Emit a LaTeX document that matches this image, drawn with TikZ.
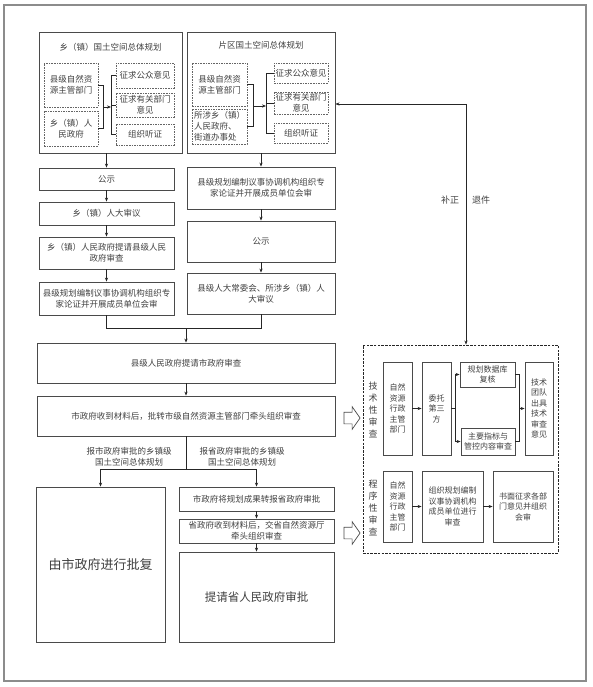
\documentclass[tikz,border=0pt]{standalone}
\usepackage{fontspec}
\setmainfont{Noto Sans CJK SC}
\usepackage{tikz}
\usetikzlibrary{arrows.meta,positioning,shapes.arrows}

\definecolor{linegray}{HTML}{4A4A4A}
\definecolor{textgray}{HTML}{404040}
\definecolor{framegray}{HTML}{8C8C8C}

\begin{document}
\begin{tikzpicture}[
  x=1pt, y=-1pt,
  font=\fontsize{8.5}{11}\selectfont,
  >={Stealth[length=4pt,width=3.2pt]},
  % Block styles
  box/.style={
    draw=linegray, line width=0.8pt, text=textgray,
    align=center, inner sep=1pt
  },
  dbox/.style={box, dash pattern=on 1.6pt off 1pt, draw=linegray!85},
  group/.style={draw=linegray, line width=0.9pt},
  small/.style={font=\fontsize{8}{10.5}\selectfont},
  vlabel/.style={text=textgray, align=center, font=\fontsize{9}{12}\selectfont},
  lab/.style={text=textgray, align=center},
  hollow/.style={
    single arrow, draw=linegray, line width=0.7pt, inner sep=5.5pt,
    minimum height=16, single arrow head extend=5.5pt,
    single arrow tip angle=110
  },
  line/.style={draw=black!85, line width=0.7pt},
  arrow/.style={line, ->}
]

% ── Frame ────────────────────────────────────────────────────────────────────
\useasboundingbox (0,0) rectangle (592,687);
\draw[draw=framegray, line width=1.3pt] (4,5) rectangle (586,681);

% ── 乡（镇）国土空间总体规划 ─────────────────────────────────────────────────
\node[group, minimum width=143, minimum height=121] (xzgroup) at (110.5,92.5) {};
\node[lab] (xztitle) at (110.5,47) {乡（镇）国土空间总体规划};
\node[dbox, minimum width=54, minimum height=44] (xzzy) at (71,85) {县级自然资\\源主管部门};
\node[dbox, minimum width=54, minimum height=35] (xzgov) at (71,128.5) {乡（镇）人\\民政府};
\node[dbox, minimum width=58, minimum height=25] (xzgz) at (145,75.5) {征求公众意见};
\node[dbox, minimum width=58, minimum height=24] (xzbm) at (145,105) {征求有关部门\\意见};
\node[dbox, minimum width=58, minimum height=21] (xztz) at (145,134.5) {组织听证};

% ── 片区国土空间总体规划 ─────────────────────────────────────────────────────
\node[group, minimum width=148, minimum height=121] (pqgroup) at (261,92.5) {};
\node[lab] (pqtitle) at (261,45) {片区国土空间总体规划};
\node[dbox, minimum width=55, minimum height=43] (pqzy) at (219.5,84.5) {县级自然资\\源主管部门};
\node[dbox, minimum width=55, minimum height=35, align=left] (pqgov) at (219.5,126.5)
  {所涉乡（镇）\\人民政府、\\街道办事处};
\node[dbox, minimum width=54, minimum height=20] (pqgz) at (301,73) {征求公众意见};
\node[dbox, minimum width=54, minimum height=22] (pqbm) at (301,103) {征求有关部门\\意见};
\node[dbox, minimum width=54, minimum height=20] (pqtz) at (301,133) {组织听证};

% ── Left column ──────────────────────────────────────────────────────────────
\node[box, minimum width=135, minimum height=22] (xz1) at (106.5,179) {公示};
\node[box, minimum width=135, minimum height=23] (xz2) at (106.5,213.5) {乡（镇）人大审议};
\node[box, minimum width=135, minimum height=32] (xz3) at (106.5,253)
  {乡（镇）人民政府提请县级人民\\政府审查};
\node[box, minimum width=135, minimum height=33] (xz4) at (106.5,298.5)
  {县级规划编制议事协调机构组织专\\家论证并开展成员单位会审};

% ── Right column ─────────────────────────────────────────────────────────────
\node[box, minimum width=148, minimum height=42] (pq1) at (261,188)
  {县级规划编制议事协调机构组织专\\家论证并开展成员单位会审};
\node[box, minimum width=148, minimum height=41] (pq2) at (261,241.5) {公示};
\node[box, minimum width=148, minimum height=41] (pq3) at (261,293.5)
  {县级人大常委会、所涉乡（镇）人\\大审议};

% ── City review ──────────────────────────────────────────────────────────────
\node[box, minimum width=298, minimum height=40] (sz1) at (186,363) {县级人民政府提请市政府审查};
\node[box, minimum width=298, minimum height=40] (sz2) at (186,416)
  {市政府收到材料后，批转市级自然资源主管部门牵头组织审查};

\node[lab] (lbcity) at (129,457) {报市政府审批的乡镇级\\国土空间总体规划};
\node[lab] (lbprov) at (242,457) {报省政府审批的乡镇级\\国土空间总体规划};

\node[box, minimum width=129, minimum height=155, font=\fontsize{13}{16}\selectfont]
  (sp1) at (100.5,564.5) {由市政府进行批复};
\node[box, minimum width=155, minimum height=24] (sj1) at (256.5,499) {市政府将规划成果转报省政府审批};
\node[box, minimum width=155, minimum height=24] (sj2) at (256.5,531)
  {省政府收到材料后，交省自然资源厅\\牵头组织审查};
\node[box, minimum width=155, minimum height=90, font=\fontsize{11.5}{14}\selectfont]
  (sj3) at (256.5,597) {提请省人民政府审批};

% Hollow arrows
\node[hollow] (ha1) at (350,418) {};
\node[hollow] (ha2) at (350,533) {};

% ── Review box ───────────────────────────────────────────────────────────────
\node[draw=black!85, line width=0.9pt, dash pattern=on 2.5pt off 1.2pt,
      minimum width=195, minimum height=208] (review) at (460.5,449) {};

\node[vlabel] (jslab) at (373,410) {技\\术\\性\\审\\查};
\node[box, small, minimum width=29, minimum height=93] (js1) at (397.5,408.5)
  {自然\\资源\\行政\\主管\\部门};
\node[box, small, minimum width=29, minimum height=93] (js2) at (436.5,408.5)
  {委托\\第三\\方};
\node[box, small, minimum width=55, minimum height=25] (js3) at (487.5,374.5)
  {规划数据库\\复核};
\node[box, small, minimum width=54, minimum height=27] (js4) at (488,441.5)
  {主要指标与\\管控内容审查};
\node[box, small, minimum width=28, minimum height=93] (js5) at (539,408.5)
  {技术\\团队\\出具\\技术\\审查\\意见};

\node[vlabel] (cxlab) at (373,508) {程\\序\\性\\审\\查};
\node[box, small, minimum width=29, minimum height=71] (cx1) at (397.5,506.5)
  {自然\\资源\\行政\\主管\\部门};
\node[box, small, minimum width=61, minimum height=71] (cx2) at (452.5,506.5)
  {组织规划编制\\议事协调机构\\成员单位进行\\审查};
\node[box, small, minimum width=60, minimum height=71] (cx3) at (523,506.5)
  {书面征求各部\\门意见并组织\\会审};

% ── Feedback labels ──────────────────────────────────────────────────────────
\node[lab, font=\fontsize{9}{11}\selectfont] (fbl) at (450,200) {补正};
\node[lab, font=\fontsize{9}{11}\selectfont] (fbr) at (481,200) {退件};

% ── Coordinates for joins ────────────────────────────────────────────────────
\coordinate (xzL) at (103,107);
\coordinate (xzR) at (111,107);
\coordinate (pqL) at (253,106);
\coordinate (pqR) at (266,106);
\coordinate (merge) at (186,328);
\coordinate (split) at (186,469);
\coordinate (jsA) at (455,408.5);
\coordinate (jsB) at (519,408.5);
\coordinate (fbturn) at (466,104);

% ── Arrows: group inner ──────────────────────────────────────────────────────
\draw[line] (xzzy.east) -| (xzL);
\draw[line] (xzgov.east) -| (xzL);
\draw[arrow] (xzL) -- (xzR);
\draw[line] (xzR) |- (xzgz.west);
\draw[line] (xzR) |- (xzbm.west);
\draw[line] (xzR) |- (xztz.west);

\draw[line] (pqzy.east) -| (pqL);
\draw[line] (pqgov.east) -| (pqL);
\draw[arrow] (pqL) -- (pqR);
\draw[line] (pqR) |- (pqgz.west);
\draw[line] (pqR) |- (pqbm.west);
\draw[line] (pqR) |- (pqtz.west);

% ── Arrows: columns ──────────────────────────────────────────────────────────
\draw[arrow] (xzgroup.south -| xz1.north) -- (xz1.north);
\draw[arrow] (xz1.south) -- (xz2.north);
\draw[arrow] (xz2.south) -- (xz3.north);
\draw[arrow] (xz3.south) -- (xz4.north);

\draw[arrow] (pqgroup.south) -- (pq1.north);
\draw[arrow] (pq1.south) -- (pq2.north);
\draw[arrow] (pq2.south) -- (pq3.north);

\draw[line] (xz4.south) |- (merge);
\draw[line] (pq3.south) |- (merge);
\draw[arrow] (merge) -- (sz1.north);
\draw[arrow] (sz1.south) -- (sz2.north);

% ── Arrows: branch ───────────────────────────────────────────────────────────
\draw[line] (sz2.south) -- (split);
\draw[arrow] (split) -| (sp1.north);
\draw[arrow] (split) -| (sj1.north);
\draw[arrow] (sj1.south) -- (sj2.north);
\draw[arrow] (sj2.south) -- (sj3.north);

% ── Arrows: review box ───────────────────────────────────────────────────────
\draw[arrow] (js1.east) -- (js2.west);
\draw[line] (js2.east) -- (jsA);
\draw[arrow] (jsA) |- (js3.west);
\draw[arrow] (jsA) |- (js4.west);
\draw[line] (js3.east) -| (jsB);
\draw[line] (js4.east) -| (jsB);
\draw[arrow] (jsB) -- (js5.west);

\draw[arrow] (cx1.east) -- (cx2.west);
\draw[arrow] (cx2.east) -- (cx3.west);

% ── Feedback ─────────────────────────────────────────────────────────────────
\draw[arrow] (fbturn) -- (fbturn -| pqgroup.east);
\draw[arrow] (fbturn) -- (fbturn |- review.north);

\end{tikzpicture}
\end{document}
